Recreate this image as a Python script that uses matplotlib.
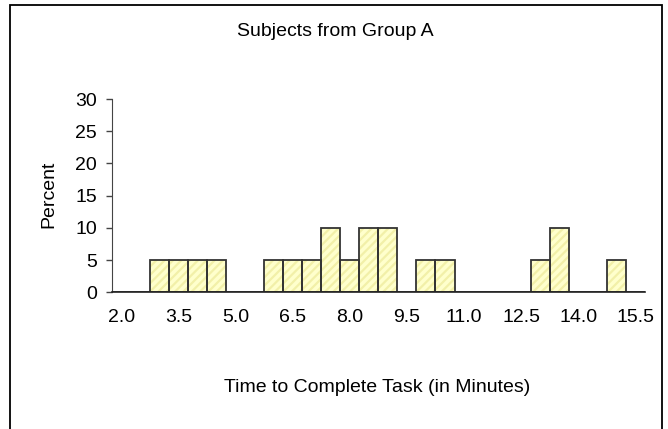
import matplotlib
matplotlib.use("Agg")
import matplotlib.pyplot as plt
from matplotlib.patches import Rectangle

plt.rcParams['font.family'] = ['Liberation Sans', 'DejaVu Sans']
plt.rcParams['hatch.linewidth'] = 1.6

categories = ["2.0", "2.5", "3.0", "3.5", "4.0", "4.5", "5.0", "5.5", "6.0", "6.5",
              "7.0", "7.5", "8.0", "8.5", "9.0", "9.5", "10.0", "10.5", "11.0", "11.5",
              "12.0", "12.5", "13.0", "13.5", "14.0", "14.5", "15.0", "15.5"]
percent = [0, 0, 5, 5, 5, 5, 0, 0, 5, 5,
           5, 10, 5, 10, 10, 0, 5, 5, 0, 0,
           0, 0, 5, 10, 0, 0, 5, 0]
shown_labels = ["2.0", "3.5", "5.0", "6.5", "8.0", "9.5", "11.0", "12.5", "14.0", "15.5"]
yticks = [0, 5, 10, 15, 20, 25, 30]

title = "Subjects from Group A"
xlabel = "Time to Complete Task (in Minutes)"
ylabel = "Percent"

FS = 14

fig = plt.figure(figsize=(6.68, 4.29), dpi=100)
fig.patch.set_facecolor('white')

# outer border
fig.add_artist(Rectangle((10 / 668, -0.01), 652 / 668, 1 - 5 / 429 + 0.01,
                         transform=fig.transFigure, fill=False,
                         edgecolor='black', linewidth=1.3))

ax = fig.add_axes([111.7 / 668, 1 - 292.3 / 429, 533.3 / 668, 193.3 / 429])
x = list(range(len(categories)))

# hatched fill
ax.bar(x, percent, width=1.0, color='#FFFFCC', edgecolor='#F2F0A8',
       hatch='////', linewidth=0, zorder=2)
# outlines
ax.bar(x, percent, width=1.0, fill=False, edgecolor='#333333',
       linewidth=1.3, zorder=3)

ax.set_xlim(-0.5, len(categories) - 0.5)
ax.set_ylim(0, 30)
ax.set_yticks(yticks)
ax.set_yticklabels([str(v) for v in yticks], fontsize=FS)
tick_pos = [categories.index(l) for l in shown_labels]
ax.set_xticks(tick_pos)
ax.set_xticklabels(shown_labels, fontsize=FS)
ax.tick_params(axis='x', length=0, pad=12)
ax.tick_params(axis='y', length=4.1, width=1, color='#444444', pad=6.5, direction='out')

for s in ['top', 'right']:
    ax.spines[s].set_visible(False)
ax.spines['left'].set_color('#444444')
ax.spines['bottom'].set_color('#222222')
ax.spines['bottom'].set_linewidth(1.2)
ax.spines['bottom'].set_zorder(4)

fig.text(335 / 668, 1 - 32 / 429, title, ha='center', va='center', fontsize=FS)
fig.text(376.7 / 668, 1 - 388 / 429, xlabel, ha='center', va='center', fontsize=FS)
fig.text(48.4 / 668, 1 - 194 / 429, ylabel, ha='center', va='center',
         rotation=90, fontsize=FS)

fig.savefig("out.png", dpi=100)
